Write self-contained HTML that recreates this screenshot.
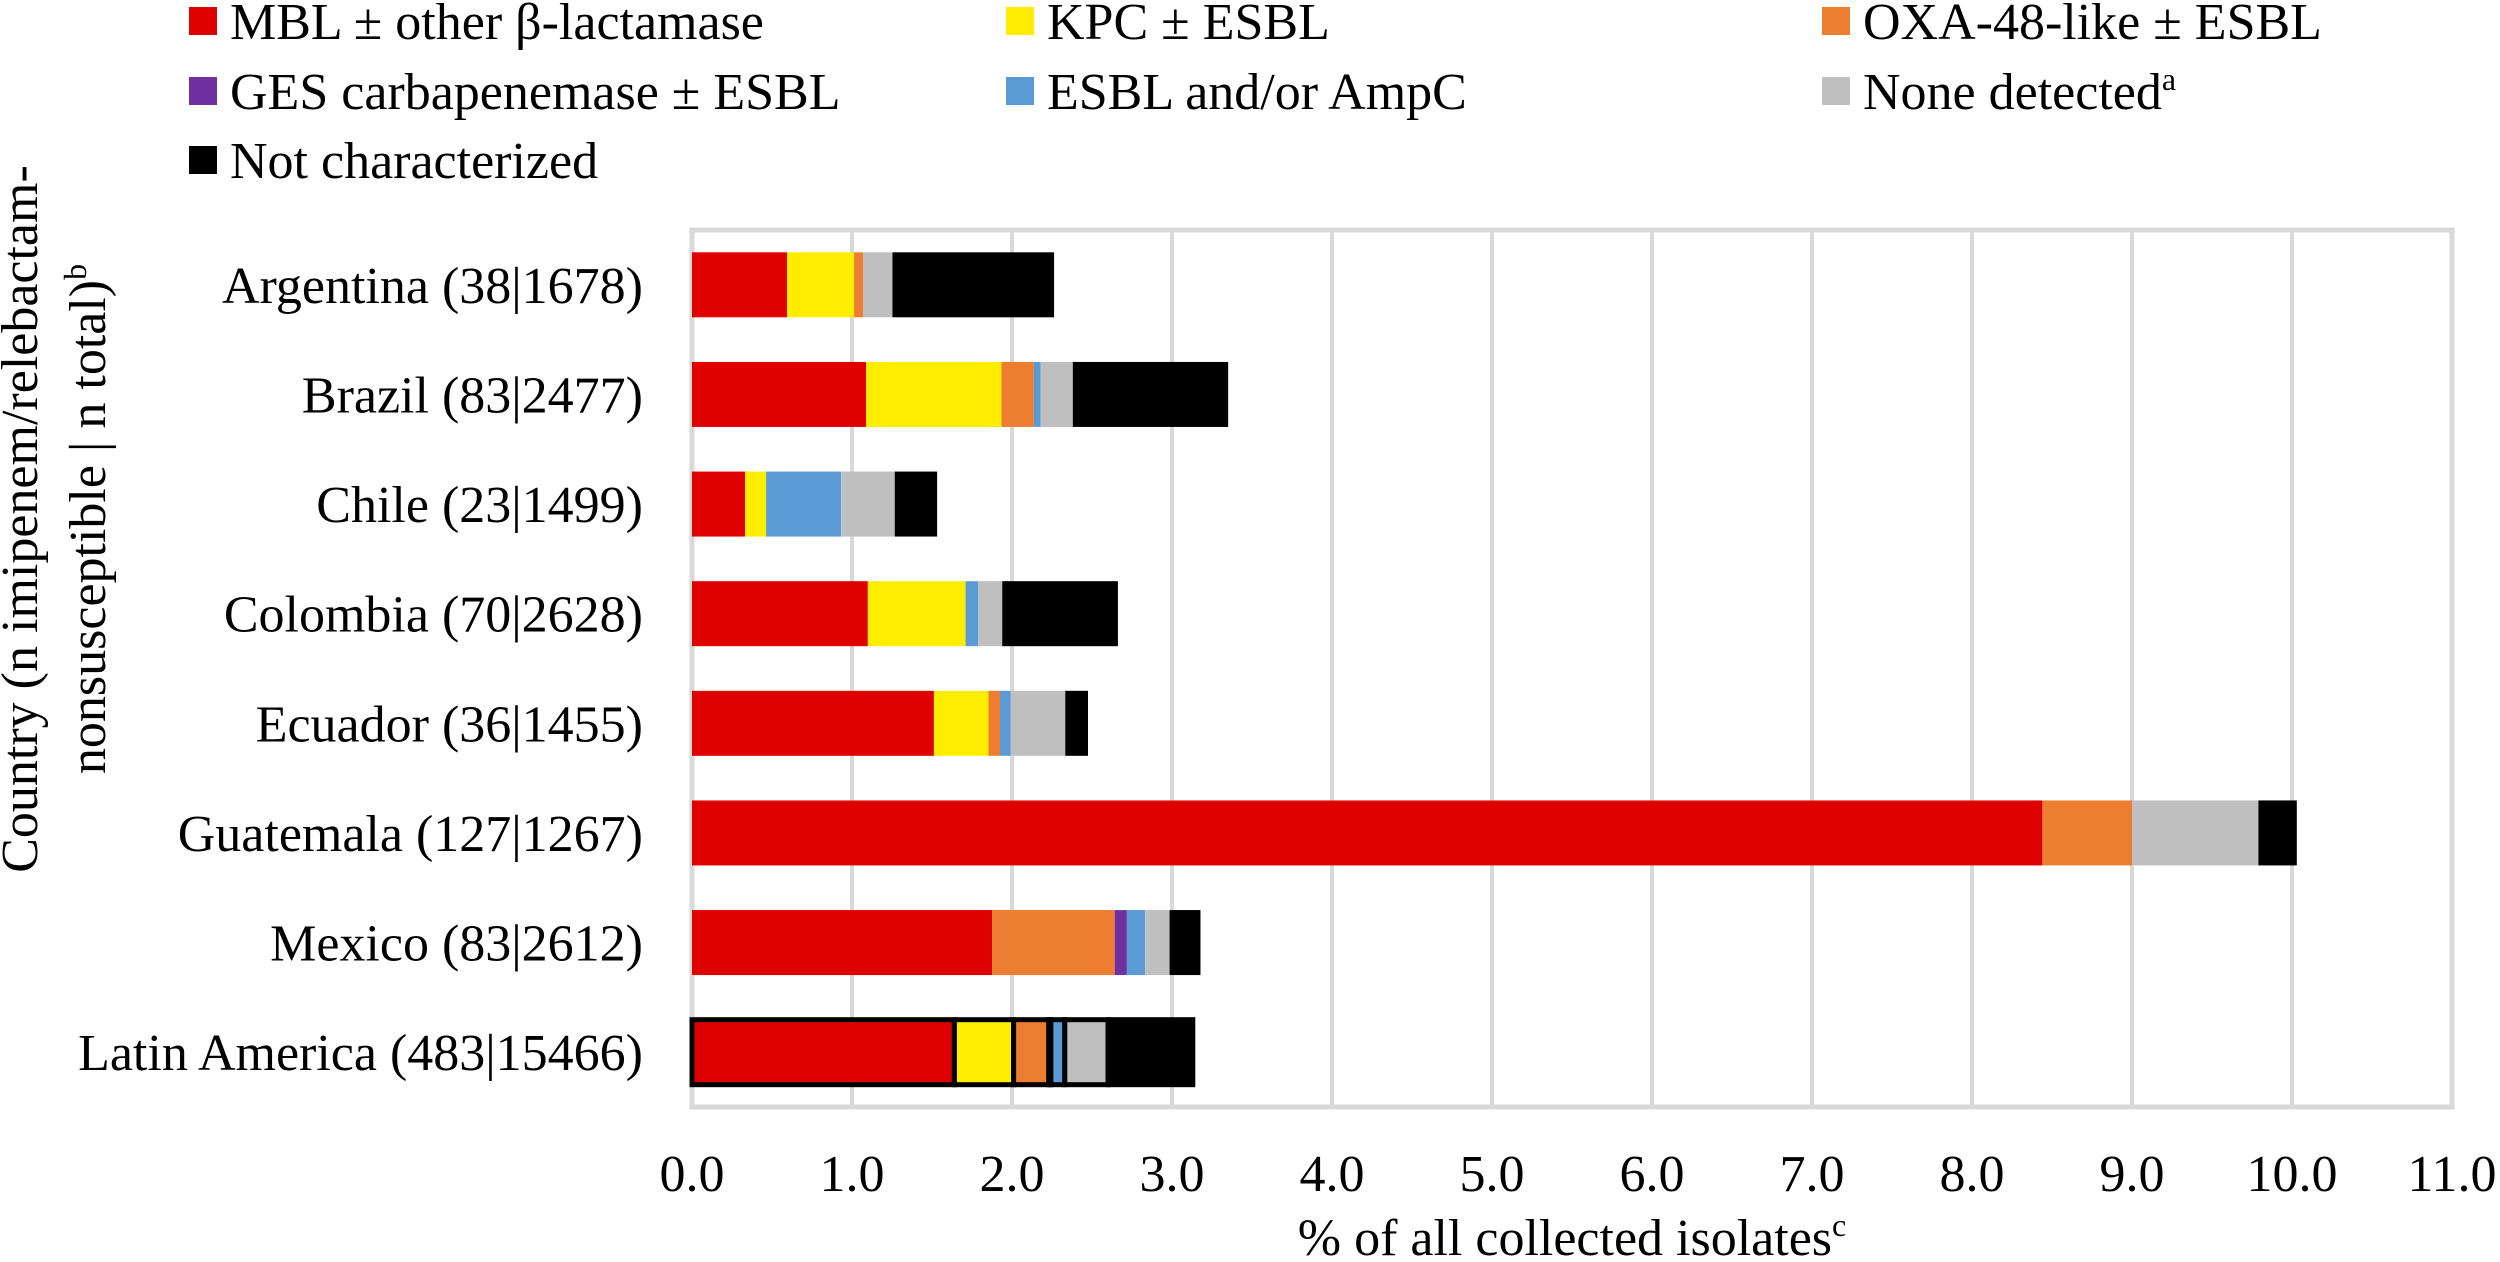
<!DOCTYPE html>
<html><head><meta charset="utf-8"><style>
html,body{margin:0;padding:0;background:#fff;}
svg{display:block;font-family:"Liberation Serif","Times New Roman",serif;}
</style></head><body>
<svg id="chart" width="2500" height="1262" viewBox="0 0 2500 1262" xmlns="http://www.w3.org/2000/svg">
<g id="legend"></g>
<g id="grid"></g>
<g id="bars"></g>
<g id="ylabels"></g>
<g id="xlabels"></g>
<text x="1572" y="1255" font-size="52" text-anchor="middle">% of all collected isolates<tspan font-size="32" dy="-19">c</tspan></text>
<g transform="translate(55,519) rotate(-90)">
<text x="0" y="-18" font-size="52" text-anchor="middle">Country (n imipenem/relebactam-</text>
<text x="0" y="50" font-size="52" text-anchor="middle">nonsusceptible | n total)<tspan font-size="32" dy="-19">b</tspan></text>
</g>
</svg>
<script>
const categories = ["Argentina (38|1678)","Brazil (83|2477)","Chile (23|1499)","Colombia (70|2628)","Ecuador (36|1455)","Guatemala (127|1267)","Mexico (83|2612)","Latin America (483|15466)"];
const seriesNames = ["MBL ± other β-lactamase","KPC ± ESBL","OXA-48-like ± ESBL","GES carbapenemase ± ESBL","ESBL and/or AmpC","None detected","Not characterized"];
const mbl   = [0.594,1.088,0.332,1.099,1.512,8.44,1.875,1.64];
const kpc   = [0.419,0.846,0.131,0.611,0.341,0,0,0.37];
const oxa   = [0.056,0.203,0,0,0.072,0.56,0.767,0.22];
const ges   = [0,0,0,0,0,0,0.076,0.013];
const esbl  = [0,0.042,0.469,0.079,0.067,0,0.114,0.087];
const none  = [0.184,0.201,0.335,0.150,0.341,0.79,0.153,0.27];
const notch = [1.01,0.971,0.265,0.723,0.142,0.24,0.193,0.53];
const xTicks = [0,1,2,3,4,5,6,7,8,9,10,11];
const xTickLabels = ["0.0","1.0","2.0","3.0","4.0","5.0","6.0","7.0","8.0","9.0","10.0","11.0"];

const colors = ["#df0000","#ffed00","#ed7d31","#7030a0","#5b9bd5","#bfbfbf","#000000"];
const series = [mbl,kpc,oxa,ges,esbl,none,notch];
const NS="http://www.w3.org/2000/svg";
const L=692,R=2452,T=230,B=1107;
const xMax=11;
const x=v=>L+(v/xMax)*(R-L);
const band=(B-T)/categories.length;
const yC=i=>T+band*(i+0.5);
const bh=65;
function mk(tag,attrs,parent){const e=document.createElementNS(NS,tag);for(const k in attrs)e.setAttribute(k,attrs[k]);parent.appendChild(e);return e;}

const grid=document.getElementById('grid');
xTicks.forEach((t,i)=>{
  const ln=mk('line',{x1:x(t),x2:x(t),y1:T,y2:B,stroke:'#d9d9d9','stroke-width':4},grid);
  
  
});
const frame=mk('rect',{x:L,y:T,width:R-L,height:B-T,fill:'none',stroke:'#d9d9d9','stroke-width':5},grid);



const bars=document.getElementById('bars');
categories.forEach((c,i)=>{
  let acc=0;
  const isTotal=i===categories.length-1;
  series.forEach((s,j)=>{
    const v=s[i];
    if(v<=0){return;}
    const r=mk('rect',{x:x(acc),y:yC(i)-bh/2,width:x(acc+v)-x(acc),height:bh,fill:colors[j]},bars);
    if(isTotal){r.setAttribute('stroke','#000');r.setAttribute('stroke-width','5');}
    
    
    acc+=v;
  });
});

const yl=document.getElementById('ylabels');
categories.forEach((c,i)=>{
  const t=mk('text',{x:643,y:yC(i)+18,'font-size':52,'text-anchor':'end'},yl);
  t.textContent=c;
  
  
});
const xl=document.getElementById('xlabels');
xTicks.forEach((t,i)=>{
  const e=mk('text',{x:x(t),y:1191,'font-size':52,'text-anchor':'middle'},xl);
  e.textContent=xTickLabels[i];
  
  
});

const lg=document.getElementById('legend');
const colX=[189,1006,1822], rowY=[7,77,146];
seriesNames.forEach((n,k)=>{
  const cx=colX[k%3], ry=rowY[Math.floor(k/3)];
  const g=mk('g',{},lg);
  
  
  mk('rect',{x:cx,y:ry,width:28,height:28,fill:colors[k]},g);
  const t=mk('text',{x:cx+41,y:ry+32,'font-size':52},g);
  t.textContent=n;
  if(k===5){const sp=mk('tspan',{'font-size':32,dy:-19},t);sp.textContent='a';}
});
</script>
</body></html>
